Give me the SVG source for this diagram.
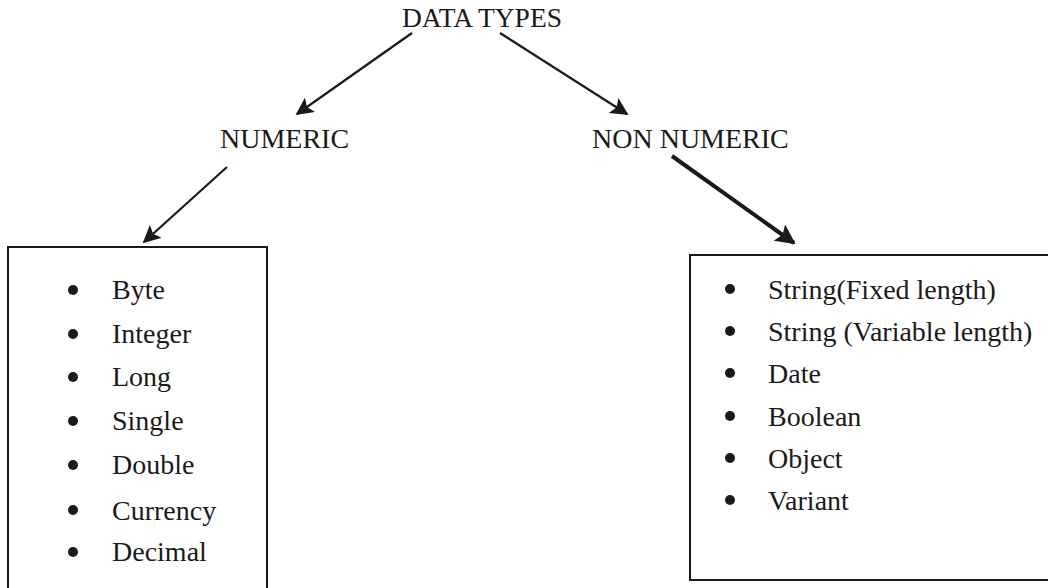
<svg xmlns="http://www.w3.org/2000/svg" width="1048" height="588" viewBox="0 0 1048 588">
<defs>
<style>
text{font-family:"Liberation Serif","Times New Roman",serif;fill:#1a1a1a}
.h{font-size:28px}
.i{font-size:28px}
.box{fill:none;stroke:#1a1a1a;stroke-width:2}
.c{stroke:#1a1a1a;stroke-width:2.2;fill:none}
.ct{stroke:#1a1a1a;stroke-width:4;fill:none}
.b{fill:#1a1a1a}
</style>
<marker id="ah" viewBox="0 0 10 10" refX="9" refY="5" markerWidth="8" markerHeight="8" markerUnits="strokeWidth" orient="auto">
<path d="M0,0 L10,5 L0,10 L2,5 z" fill="#1a1a1a"/>
</marker>
<marker id="ahT" viewBox="0 0 10 10" refX="9" refY="5" markerWidth="5" markerHeight="5" markerUnits="strokeWidth" orient="auto">
<path d="M0,0 L10,5 L0,10 L2,5 z" fill="#1a1a1a"/>
</marker>
</defs>
<rect width="1048" height="588" fill="#fff"/>
<g id="root"><text class="h" x="402" y="27" textLength="160" lengthAdjust="spacingAndGlyphs">DATA TYPES</text></g>
<g id="numeric"><text class="h" x="220" y="148">NUMERIC</text></g>
<g id="nonnumeric"><text class="h" x="592" y="148">NON NUMERIC</text></g>
<g id="numeric-list">
<rect class="box" x="8" y="247" width="259" height="400"/>
<circle class="b" cx="73" cy="290" r="5"/><text class="i" x="112" y="299">Byte</text>
<circle class="b" cx="73" cy="334" r="5"/><text class="i" x="112" y="343">Integer</text>
<circle class="b" cx="73" cy="377" r="5"/><text class="i" x="112" y="386">Long</text>
<circle class="b" cx="73" cy="421" r="5"/><text class="i" x="112" y="430">Single</text>
<circle class="b" cx="73" cy="465" r="5"/><text class="i" x="112" y="474">Double</text>
<circle class="b" cx="73" cy="510" r="5"/><text class="i" x="112" y="520">Currency</text>
<circle class="b" cx="73" cy="552" r="5"/><text class="i" x="112" y="561">Decimal</text>
</g>
<g id="nonnumeric-list">
<rect class="box" x="690" y="255" width="400" height="325"/>
<circle class="b" cx="730" cy="289" r="5"/><text class="i" x="768" y="299">String(Fixed length)</text>
<circle class="b" cx="730" cy="331" r="5"/><text class="i" x="768" y="341">String (Variable length)</text>
<circle class="b" cx="730" cy="373" r="5"/><text class="i" x="768" y="383">Date</text>
<circle class="b" cx="730" cy="416" r="5"/><text class="i" x="768" y="426">Boolean</text>
<circle class="b" cx="730" cy="458" r="5"/><text class="i" x="768" y="468">Object</text>
<circle class="b" cx="730" cy="500" r="5"/><text class="i" x="768" y="510">Variant</text>
</g>
<g id="connectors">
<line class="c" x1="412" y1="33" x2="297" y2="114" marker-end="url(#ah)"/>
<line class="c" x1="500" y1="33" x2="627" y2="114" marker-end="url(#ah)"/>
<line class="c" x1="227" y1="167" x2="144" y2="242" marker-end="url(#ah)"/>
<line class="ct" x1="672" y1="156" x2="794" y2="243" marker-end="url(#ahT)"/>
</g>
</svg>
